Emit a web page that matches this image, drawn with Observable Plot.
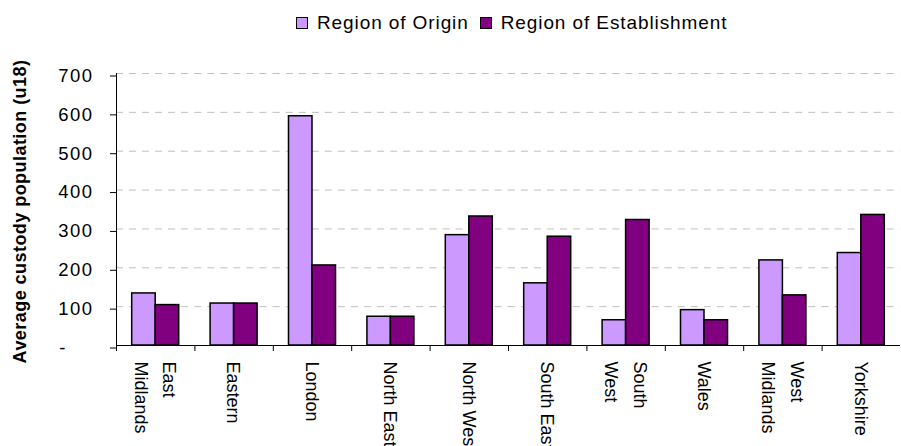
<!DOCTYPE html>
<html><head><meta charset="utf-8">
<script src="https://cdn.jsdelivr.net/npm/d3@7"></script>
<script src="https://cdn.jsdelivr.net/npm/@observablehq/plot@0.6"></script>
<style>
html,body{margin:0;padding:0;background:#fff;overflow:hidden;width:901px;height:446px}
#legend{height:46px;display:flex;align-items:center;font-family:"Liberation Sans",Arial,sans-serif;font-size:19px;letter-spacing:0.9px;color:#000;padding-left:296px;box-sizing:border-box}
.item{display:flex;align-items:center;margin-right:11px}
.sw{width:10px;height:10px;border:1.5px solid #000;margin-right:9px}
#chart svg [aria-label="y-axis tick label"] text{letter-spacing:1.5px}
</style></head>
<body>
<div id="legend"></div>
<div id="chart"></div>
<script>
const regions = ["East Midlands","Eastern","London","North East","North West","South East","South West","Wales","West Midlands","Yorkshire"];
const regionLabels = ["East\nMidlands","Eastern","London","North East","North West","South East","South\nWest","Wales","West\nMidlands","Yorkshire"];
const seriesNames = ["Region of Origin","Region of Establishment"];
const originValues = [134,108,590,74,284,160,65,91,219,238];
const establishmentValues = [104,108,206,74,332,280,323,65,129,336];
const seriesColors = ["#CC99FF","#800080"];
const yTicks = [0,100,200,300,400,500,600,700];
const yLabel = "Average custody population (u18)";

const rows = regions.flatMap((r,i)=>[
  {region:r, series:seriesNames[0], value:originValues[i]},
  {region:r, series:seriesNames[1], value:establishmentValues[i]}
]);

const legend = document.getElementById("legend");
seriesNames.forEach((s,i)=>{
  const it = document.createElement("div"); it.className="item";
  const sw = document.createElement("div"); sw.className="sw"; sw.style.background=seriesColors[i];
  const tx = document.createElement("span"); tx.textContent=s;
  it.appendChild(sw); it.appendChild(tx); legend.appendChild(it);
});

const W=901, ML=116, MR=1;
const bw=(W-ML-MR)/regions.length;

const chart = Plot.plot({
  width: W, height: 400, marginTop: 27, marginBottom: 101, marginLeft: ML, marginRight: MR,
  style: {fontFamily: "'Liberation Sans', Arial, sans-serif", fontSize: "18px", background: "white", overflow: "visible", color: "#000"},
  fx: {domain: regions, padding: 0, round: false, axis: null, label: null},
  x: {domain: seriesNames, paddingInner: 0, paddingOuter: 0.668, round: false, axis: null, label: null},
  y: {domain: [0,700], axis: null, label: null},
  color: {domain: seriesNames, range: seriesColors},
  marks: [
    Plot.gridY(yTicks.filter(d=>d>0), {stroke: "#c0c0c0", strokeOpacity: 1, strokeDasharray: "7,6"}),
    Plot.barY(rows, {fx: "region", x: "series", y: "value", fill: "series", stroke: "#000", strokeWidth: 1.5}),
    Plot.ruleY([0], {stroke: "#000"}),
    Plot.frame({anchor: "left", facetAnchor: "left", stroke: "#000"}),
    Plot.axisY({ticks: yTicks, tickFormat: d => d === 0 ? "-\u00a0\u00a0\u00a0\u00a0" : String(d), tickSize: 6, tickPadding: 17, fontSize: 18.5, dy: 2.5, label: null, stroke: "#000"}),
    Plot.axisFx({anchor: "bottom", text: null, tickSize: 6, dx: -bw/2, label: null, stroke: "#000"}),
    Plot.text(regions, {fx: d=>d, text: (d,i)=>regionLabels[i], frameAnchor: "bottom", rotate: 90, textAnchor: "start", lineAnchor: "middle", lineHeight: 1.6, dy: 16, dx: 2.5, fontSize: 18, fill: "#000"}),
    Plot.text([yLabel], {fx: () => regions[0], frameAnchor: "left", dx: -96, dy: 2, rotate: -90, textAnchor: "middle", lineAnchor: "middle", fontSize: 18, fontWeight: "bold", fill: "#000"})
  ]
});
document.getElementById("chart").appendChild(chart);
d3.select(chart).selectAll("text").filter(function(){return this.textContent===yLabel;}).style("letter-spacing","0.45px");
</script>
</body></html>
